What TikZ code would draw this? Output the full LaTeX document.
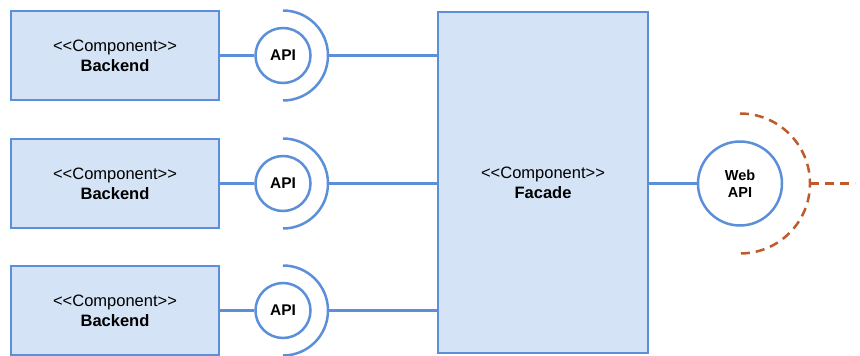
\documentclass[tikz,border=0pt]{standalone}
\usepackage{fontspec}
\setmainfont{Liberation Sans}
\definecolor{bl}{HTML}{5B8FD9}
\definecolor{fillb}{HTML}{D4E3F5}
\definecolor{rust}{HTML}{BE5A2B}
\begin{document}
\begin{tikzpicture}[x=1pt,y=-1pt,
  comp/.style={draw=bl,line width=2.5pt,fill=fillb,inner sep=0pt,align=center,
    font=\fontsize{16.5}{20}\selectfont},
  iface/.style={circle,draw=bl,line width=2.5pt,fill=white,inner sep=0pt,align=center,
    font=\fontsize{14.5}{17}\selectfont\bfseries},
  conn/.style={draw=bl,line width=2.5pt},
  req/.style={draw=rust,line width=2.5pt,dashed,dash pattern=on 9pt off 6pt}]
\useasboundingbox (0,0) rectangle (860,356);
% backends
\foreach \i/\y in {1/55.5,2/183.5,3/310.5}{
  \node[comp,minimum width=208pt,minimum height=89pt] (b\i) at (115,\y) {<{}<Component>{}>\\\textbf{Backend}};
  \node[iface,minimum size=55pt,font=\fontsize{15.5}{18}\selectfont\bfseries] (a\i) at (283,\y) {API};
  \coordinate (s\i) at (328,\y);
  \draw[conn] (283,\y-45) arc[start angle=-90,end angle=90,radius=45];
  \draw[conn] (b\i.east) -- (a\i.west);
}
\node[comp,minimum width=210pt,minimum height=341pt] (f) at (543,182.5) {<{}<Component>{}>\\\textbf{Facade}};
\foreach \i in {1,2,3}{
  \draw[conn] (s\i) -- (s\i -| f.west);
}
\node[iface,minimum size=84pt] (w) at (740,183.5) {Web\\API};
\draw[conn] (f.east |- w) -- (w.west);
\draw[req] (740,113.5) arc[start angle=-90,end angle=90,radius=70];
\coordinate (wr) at (810,183.5);
\coordinate (we) at (855,183.5);
\draw[req] (wr) -- (we);
\end{tikzpicture}
\end{document}
